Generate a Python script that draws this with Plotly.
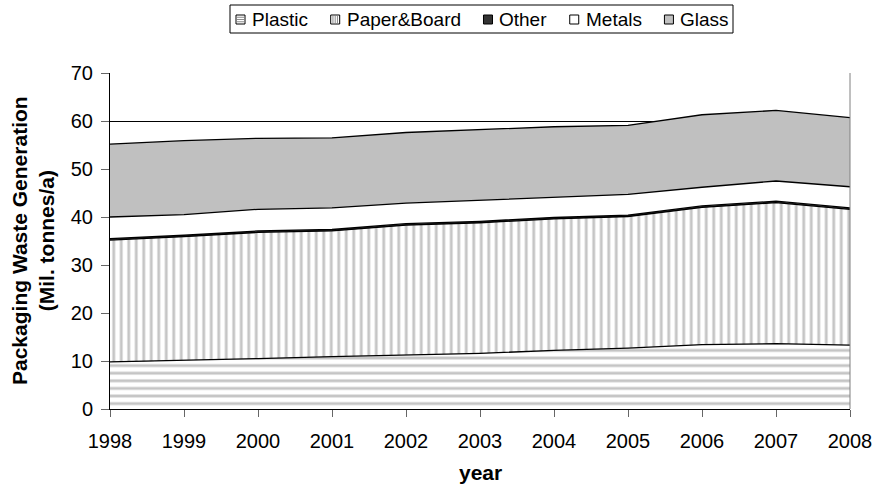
import plotly.graph_objects as go

years = [1998, 1999, 2000, 2001, 2002, 2003, 2004, 2005, 2006, 2007, 2008]

# Packaging waste generation by material, Mil. tonnes/a
plastic = [9.8, 10.1, 10.5, 10.9, 11.25, 11.6, 12.2, 12.7, 13.4, 13.6, 13.3]
paper_board = [25.4, 25.8, 26.3, 26.2, 27.05, 27.2, 27.4, 27.4, 28.6, 29.4, 28.3]
other = [0.3, 0.3, 0.3, 0.3, 0.3, 0.3, 0.3, 0.3, 0.3, 0.3, 0.3]
metals = [4.5, 4.3, 4.5, 4.5, 4.3, 4.4, 4.3, 4.3, 3.9, 4.2, 4.4]
glass = [15.2, 15.4, 14.8, 14.6, 14.7, 14.7, 14.6, 14.4, 15.1, 14.7, 14.4]

series_names = ["Plastic", "Paper&Board", "Other", "Metals", "Glass"]
y_ticks = [0, 10, 20, 30, 40, 50, 60, 70]

FONT = "Arial, Liberation Sans, sans-serif"
W, H = 873, 486
ML, MR, MT, MB = 110, 23, 73, 77
PW, PH = W - ML - MR, H - MT - MB

LINE_GREY = "#8c8c8c"
styles = {
    "Plastic": dict(fillcolor="white",
                    fillpattern=dict(shape="-", size=7.6, solidity=0.38,
                                     fgcolor=LINE_GREY, bgcolor="white")),
    "Paper&Board": dict(fillcolor="white",
                        fillpattern=dict(shape="|", size=7.5, solidity=0.38,
                                         fgcolor=LINE_GREY, bgcolor="white")),
    "Other": dict(fillcolor="#333333"),
    "Metals": dict(fillcolor="white"),
    "Glass": dict(fillcolor="#c0c0c0"),
}

fig = go.Figure()
for name, vals in zip(series_names, [plastic, paper_board, other, metals, glass]):
    fig.add_trace(go.Scatter(
        x=years, y=vals, name=name, mode="lines",
        stackgroup="one", showlegend=False,
        line=dict(color="black", width=1.3),
        **styles[name],
    ))


# ---- compact boxed legend drawn with shapes + annotations ----
def px_x(px):
    return (px - ML) / PW


def px_y(py):
    return (H - MB - py) / PH


ARIAL_W = {"P": .667, "l": .222, "a": .556, "s": .5, "t": .278, "i": .222, "c": .5,
           "e": .556, "r": .333, "&": .667, "B": .667, "o": .556, "d": .556,
           "O": .778, "h": .556, "M": .833, "G": .778, "p": .556}
LEG_FONT = 19
SYM = 9
SYM_GAP = 5
box_x0, box_x1, box_y0, box_y1 = 230, 733, 5, 33
pad = 6
text_w = [sum(ARIAL_W.get(ch, .556) for ch in n) * LEG_FONT for n in series_names]
free = (box_x1 - box_x0 - 2 * pad) - sum(text_w) - len(series_names) * (SYM + SYM_GAP)
item_gap = free / (len(series_names) - 1)

shapes = [dict(type="rect", xref="paper", yref="paper",
               x0=px_x(box_x0), x1=px_x(box_x1), y0=px_y(box_y1), y1=px_y(box_y0),
               line=dict(color="black", width=1), fillcolor="white", layer="above")]
annotations = []
cy = (box_y0 + box_y1) / 2 + 0.5
x = box_x0 + pad
sym_fill = {"Plastic": "white", "Paper&Board": "white", "Other": "#333333",
            "Metals": "white", "Glass": "#c0c0c0"}
for name, tw in zip(series_names, text_w):
    sx0, sx1 = x, x + SYM
    sy0, sy1 = cy - SYM / 2, cy + SYM / 2
    shapes.append(dict(type="rect", xref="paper", yref="paper",
                       x0=px_x(sx0), x1=px_x(sx1), y0=px_y(sy1), y1=px_y(sy0),
                       line=dict(color="black", width=1), fillcolor=sym_fill[name],
                       layer="above"))
    if name == "Plastic":
        for k in (1, 2, 3):
            yy = sy0 + k * SYM / 4
            shapes.append(dict(type="line", xref="paper", yref="paper",
                               x0=px_x(sx0 + 1), x1=px_x(sx1 - 1), y0=px_y(yy), y1=px_y(yy),
                               line=dict(color=LINE_GREY, width=1), layer="above"))
    if name == "Paper&Board":
        for k in (1, 2, 3):
            xx = sx0 + k * SYM / 4
            shapes.append(dict(type="line", xref="paper", yref="paper",
                               x0=px_x(xx), x1=px_x(xx), y0=px_y(sy0 + 1), y1=px_y(sy1 - 1),
                               line=dict(color=LINE_GREY, width=1), layer="above"))
    annotations.append(dict(text=name, xref="paper", yref="paper",
                            x=px_x(sx1 + SYM_GAP), y=px_y(cy), xanchor="left",
                            yanchor="middle", showarrow=False,
                            font=dict(family=FONT, size=LEG_FONT, color="black")))
    x = sx1 + SYM_GAP + tw + item_gap

# axis titles
annotations.append(dict(text="<b>Packaging Waste Generation<br>(Mil. tonnes/a)</b>",
                        xref="paper", yref="paper", x=px_x(33), y=0.5,
                        xanchor="center", yanchor="middle", textangle=-90,
                        showarrow=False,
                        font=dict(family=FONT, size=21, color="black")))
annotations.append(dict(text="<b>year</b>", xref="paper", yref="paper",
                        x=0.5, y=px_y(485), xanchor="center", yanchor="bottom",
                        showarrow=False, borderpad=0,
                        font=dict(family=FONT, size=21, color="black")))

# thin frame line on the right of the plotting area
shapes.append(dict(type="line", xref="paper", yref="paper", x0=1, x1=1, y0=0, y1=1,
                   line=dict(color="#808080", width=1)))

fig.update_layout(
    width=W, height=H,
    margin=dict(l=ML, r=MR, t=MT, b=MB, autoexpand=False),
    paper_bgcolor="white", plot_bgcolor="white",
    font=dict(family=FONT, color="black", size=20),
    showlegend=False,
    xaxis=dict(
        range=[1998, 2008], tickvals=years, ticktext=[str(y) for y in years],
        showgrid=False, zeroline=False, automargin=False,
        showline=True, linecolor="black", linewidth=1,
        ticks="outside", ticklen=7, tickcolor="#666666",
        tickfont=dict(size=20), ticklabelstandoff=7,
    ),
    yaxis=dict(
        range=[0, 70], tickvals=y_ticks,
        showgrid=True, gridcolor="black", gridwidth=1,
        zeroline=False, automargin=False,
        showline=True, linecolor="black", linewidth=1,
        ticks="outside", ticklen=8, tickcolor="#666666",
        tickfont=dict(size=20), ticklabelstandoff=4,
    ),
    shapes=shapes,
    annotations=annotations,
)

fig.write_html("out.html")
